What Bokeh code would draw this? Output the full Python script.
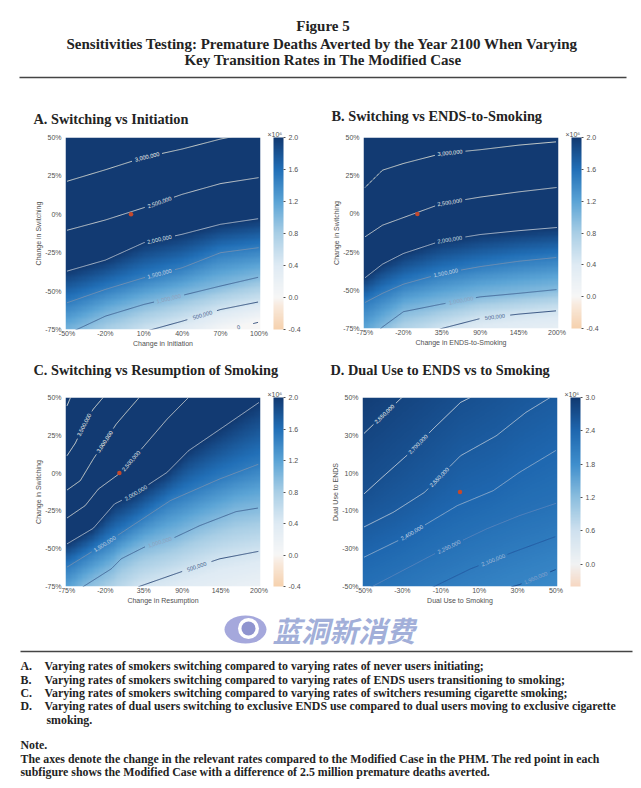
import numpy as np
from bokeh.embed import file_html
from bokeh.resources import INLINE
from bokeh.plotting import figure
from bokeh.layouts import column, row
from bokeh.core.properties import value
from bokeh.models import (ColorBar, FixedTicker, LinearColorMapper, PrintfTickFormatter, Range1d, Title)

# ---------- chart values ----------
HEADER = ["Figure 5",
          "Sensitivities Testing: Premature Deaths Averted by the Year 2100 When Varying",
          "Key Transition Rates in The Modified Case"]
NOTES_ABC = [("A.", "Varying rates of smokers switching compared to varying rates of never users initiating;"),
             ("B.", "Varying rates of smokers switching compared to varying rates of ENDS users transitioning to smoking;"),
             ("C.", "Varying rates of smokers switching compared to varying rates of switchers resuming cigarette smoking;"),
             ("D.", "Varying rates of dual users switching to exclusive ENDS use compared to dual users moving to exclusive cigarette")]
NOTE_WRAP = "smoking."
NOTE_HEAD = "Note."
NOTE_LINES = ["The axes denote the change in the relevant rates compared to the Modified Case in the PHM. The red point in each",
              "subfigure shows the Modified Case with a difference of 2.5 million premature deaths averted."]
WATERMARK = "蓝洞新消费"

# Panel A
A_TITLE = "A. Switching vs Initiation"
A_XTICKS = [-50, -20, 10, 40, 70, 100]
A_YTICKS = [-75, -50, -25, 0, 25, 50]
A_CTICKS = [-0.4, 0.0, 0.4, 0.8, 1.2, 1.6, 2.0]
A_LEVELS = [3000000, 2500000, 2000000, 1500000, 1000000, 500000, 0]
A_X = [[-50, -20, 10, 40, 70, 100]] * 7
A_Y = [[21.5, 29, 37, 42.5, 49, 54],
       [-10.4, -3.7, 4.3, 13, 20, 23.9],
       [-37, -29.8, -18.5, -13, -6.5, -2.8],
       [-57.6, -48.9, -41.3, -34.8, -25, -21.7],
       [-78, -66.3, -58.7, -52.8, -46.7, -40.9],
       [-100, -88, -76.5, -69.6, -62, -57],
       [-130, -110, -100, -88, -76.5, -70.2]]
A_LABEL_X = [12.6, 22.3, 22.3, 22.3, 29.5, 55.9, 84]

# Panel B
B_TITLE = "B. Switching vs ENDS-to-Smoking"
B_XTICKS = [-75, -20, 35, 90, 145, 200]
B_YTICKS = [-75, -50, -25, 0, 25, 50]
B_CTICKS = [-0.4, 0.0, 0.4, 0.8, 1.2, 1.6, 2.0]
B_LEVELS = [3000000, 2500000, 2000000, 1500000, 1000000, 500000, 0]
B_X = [[-75, -50, -20, 35, 90, 145, 200]] * 7
B_Y = [[17.3, 28.6, 33, 39.5, 42, 45, 47.2],
       [-15, -7.4, -2.4, 6.8, 11, 14.4, 17.3],
       [-41.8, -32.9, -25.9, -17.6, -13.5, -11, -8.9],
       [-58, -52, -46, -39, -34.5, -31, -28.5],
       [-85, -74, -64, -59, -54.3, -52, -49.5],
       [-100, -92, -85, -75, -68.5, -65.6, -63.4],
       [-130, -125, -115, -100, -96, -92, -88]]
B_LABEL_X = [46.8, 46.3, 46.3, 40.7, 62.7, 111, None]

# Panel C
C_TITLE = "C. Switching vs Resumption of Smoking"
C_XTICKS = [-75, -20, 35, 90, 145, 200]
C_YTICKS = [-75, -50, -25, 0, 25, 50]
C_CTICKS = [-0.4, 0.0, 0.4, 0.8, 1.2, 1.6, 2.0]
C_LEVELS = [4000000, 3500000, 3000000, 2500000, 2000000, 1500000, 1000000, 500000, 0]
C_X = [[-75, -70, 200],
       [-75, -63, -49, -37.4, -23.3, 200],
       [-75, -56, -37.4, -4.5, 9.6, 28.4, 200],
       [-75, -49, -30, 2.6, 35.5, 68.4, 99, 200],
       [-75, -37.4, -7, 21.4, 68.4, 99, 148, 200],
       [-75, -21, 26, 73, 143.6, 200],
       [-75, -51.5, -11.5, 2.6, 35.5, 80, 115.4, 167, 200],
       [-75, 28.4, 94, 143.6, 200],
       [-75, 28, 200]]
C_Y = [[44.5, 50, 300],
       [11.5, 19.9, 33.5, 42.3, 50, 230],
       [-11.2, -5, 9.3, 32.4, 40, 50, 170],
       [-29.7, -21.5, -10.5, 0.5, 18, 35.7, 50, 110],
       [-46.8, -36.5, -20.4, -13.8, 0.5, 14.8, 30.2, 46.7],
       [-62.2, -46.8, -32.5, -18.2, -3.9, 6],
       [-85, -75, -63.3, -56.7, -49, -42.4, -34.7, -25.5, -23],
       [-110, -75, -64.4, -56.7, -51.7],
       [-180, -115, -90]]
C_LABEL_X = [None, -50.6, -21, 16.7, 23.7, -21, 58, 110.7, None]

# Panel D
D_TITLE = "D. Dual Use to ENDS vs to Smoking"
D_XTICKS = [-50, -30, -10, 10, 30, 50]
D_YTICKS = [-50, -30, -10, 10, 30, 50]
D_CTICKS = [0.0, 0.6, 1.2, 1.8, 2.4, 3.0]
D_LEVELS = [3000000, 2850000, 2700000, 2550000, 2400000, 2250000, 2100000, 1950000, 1800000]
D_X = [[-50, 50],
       [-50, -44, -30.7, 50],
       [-50, -40.6, -27, -13.4, 0.3, 5.4, 50],
       [-50, -34.7, -18.5, -4.9, 0.3, 19, 34.3, 47, 50],
       [-50, -30.4, -1.4, 17.3, 31, 50],
       [-50, -45.7, -11.7, 13.9, 31, 50],
       [-50, -13.4, 5.4, 12.2, 27.5, 50],
       [-50, 27.5, 31, 48.8, 50],
       [-50, 50]]
D_Y = [[62, 130],
       [31, 36.8, 49.6, 110],
       [-1, 7.7, 20, 34, 47.4, 50, 85],
       [-18.5, -10.7, -0.2, 13.9, 19.2, 29.8, 42.1, 50, 52],
       [-34.5, -24.8, -7.2, 0.7, 10.4, 22],
       [-52, -50, -31.9, -19.5, -12.5, -6],
       [-68, -50, -40.7, -38, -31.9, -23.5],
       [-85, -50, -49, -41.5, -41],
       [-110, -58]]
D_LABEL_X = [None, -39.4, -21.9, -10.8, -25, -5.7, 17.3, 39.4, None]

AXIS_NAMES = [("Change in Initiation", "Change in Switching"),
              ("Change in ENDS-to-Smoking", "Change in Switching"),
              ("Change in Resumption", "Change in Switching"),
              ("Dual Use to Smoking", "Dual Use to ENDS")]
MODIFIED_CASE = (0, 0)

# ---------- styles ----------
SERIF = "Liberation Serif"
SANS = "Liberation Sans"
INK = "#232323"
TICK = "#505050"
LINE_COLORS = {4000000: "#f4f2e4", 3500000: "#f4f2e4", 3000000: "#e8e8da", 2500000: "#e0e0da", 2000000: "#c0cad6",
               1500000: "#7e93b0", 1000000: "#3f6191", 500000: "#1c3b6e", 0: "#1c3b6e"}
LABEL_COLORS = {3500000: "#f0f0e6", 3000000: "#f0f0e6", 2500000: "#eeeeea", 2000000: "#dfe5ea",
                1500000: "#c5d3e2", 1000000: "#8fa2bd", 500000: "#43618d", 0: "#43618d"}
D_LINE_COLORS = {3000000: "#f4f4ee", 2850000: "#f4f4ee", 2700000: "#e6e9ea", 2550000: "#c3cfdc", 2400000: "#9db4cf",
                 2250000: "#5f86bd", 2100000: "#24579f", 1950000: "#173f80", 1800000: "#173f80"}
D_LABEL_COLORS = {2850000: "#f4f4ee", 2700000: "#eceeee", 2550000: "#e0e6ec", 2400000: "#cfdbe8",
                  2250000: "#a9bedb", 2100000: "#a5bbda", 1950000: "#86a2cc"}
RAMP = [(-0.4, "#f6d2ae"), (-0.1, "#f9ebdf"), (0.0, "#f7f7f7"), (0.4, "#dfebf4"), (0.8, "#a9cfe6"),
        (1.2, "#5ba4d6"), (1.6, "#2270b8"), (2.0, "#123a72")]
D_RAMP = [(-0.4, "#f7d8c2"), (0.0, "#f1f3f4"), (0.6, "#cfe1ef"), (1.2, "#8cbfdf"), (1.8, "#3f8fcd"),
          (2.4, "#1f68b0"), (3.0, "#123a72")]


def make_palette(ramp):
    v = np.array([r[0] for r in ramp])
    rgb = np.array([[int(r[1][i:i + 2], 16) for i in (1, 3, 5)] for r in ramp], float)
    t = np.linspace(v[0], v[-1], 256)
    chans = [np.interp(t, v, rgb[:, k]) for k in range(3)]
    return ["#%02x%02x%02x" % (int(a), int(b), int(c)) for a, b, c in zip(*chans)]


def panel(title, xticks, yticks, cticks, levels, lx, ly, label_x, names, ramp, line_colors, label_colors,
          fw, fh, left, top, right, bottom, title_standoff):
    xpad = (xticks[-1] - xticks[0]) * 0.008
    x0, x1 = xticks[0] - xpad, xticks[-1] + xpad
    y0, y1 = yticks[0], yticks[-1]
    p = figure(frame_width=fw, frame_height=fh, min_border_left=left, min_border_right=right,
               min_border_top=top, min_border_bottom=bottom, x_range=Range1d(x0, x1), y_range=Range1d(y0, y1),
               output_backend="svg", toolbar_location=None, background_fill_color="white")
    p.outline_line_color = None
    p.grid.visible = False
    p.add_layout(Title(text="×10⁶", text_font=SANS, text_font_size="7px", text_font_style="normal",
                       text_color=TICK, align="left", offset=fw + 7, standoff=0), "above")
    p.add_layout(Title(text=title, text_font=SERIF, text_font_size="14.3px", text_color=INK,
                       align="left", offset=-32, standoff=title_standoff), "above")

    for ax, ticks, name, tick_gap in ((p.xaxis[0], xticks, names[0], 0), (p.yaxis[0], yticks, names[1], 4)):
        ax.ticker = FixedTicker(ticks=ticks)
        ax.formatter = PrintfTickFormatter(format="%d%%")
        ax.axis_label = name
        ax.axis_label_text_font = SANS
        ax.axis_label_text_font_style = "normal"
        ax.axis_label_text_font_size = "7px"
        ax.axis_label_text_color = TICK
        ax.axis_label_standoff = 0
        ax.major_label_text_font = SANS
        ax.major_label_text_font_size = "7px"
        ax.major_label_text_color = TICK
        ax.major_label_standoff = tick_gap
        ax.major_tick_in = 0
        ax.major_tick_out = 0
        ax.axis_line_color = None
        ax.major_tick_line_color = None
        ax.minor_tick_line_color = None

    # field: at each column the contour crossings give the value at that height
    gx = np.linspace(x0, x1, 160)
    gy = np.linspace(y0, y1, 160)
    z = np.zeros((gy.size, gx.size))
    for j, cx in enumerate(gx):
        cross = np.array([np.interp(cx, a, b) for a, b in zip(lx, ly)])
        order = np.argsort(cross)
        z[:, j] = np.interp(gy, cross[order], np.array(levels, float)[order]) / 1e6
    low, high = ramp[0][0], ramp[-1][0]
    mapper = LinearColorMapper(palette=make_palette(ramp), low=low, high=high)
    p.image(image=[z], x=x0, y=y0, dw=x1 - x0, dh=y1 - y0, color_mapper=mapper)

    # contour lines with a gap at each label
    sx, sy = fw / (x1 - x0), fh / (y1 - y0)
    for level, a, b, at in zip(levels, lx, ly, label_x):
        a, b = np.array(a, float), np.array(b, float)
        s = np.r_[0, np.cumsum(np.hypot(np.diff(a) * sx, np.diff(b) * sy))]
        t = np.arange(0, s[-1], 1.0)
        cx, cy = np.interp(t, s, a), np.interp(t, s, b)
        if at is not None:
            ay = np.interp(at, a, b)
            dist = np.hypot((cx - at) * sx, (cy - ay) * sy)
            i = int(np.argmin(dist))
            lo, hi = max(i - 8, 0), min(i + 8, t.size - 1)
            ang = np.arctan2((cy[hi] - cy[lo]) * sy, (cx[hi] - cx[lo]) * sx)
            cy = np.where(dist < 15, np.nan, cy)
            p.text(x=[at], y=[ay], text=[f"{level:,}"], angle=[ang], text_align="center", text_baseline="middle",
                   text_font=value(SANS), text_font_size="5.6px", text_color=label_colors[level])
        p.line(cx, cy, line_color=line_colors[level], line_width=0.85)

    p.scatter(x=[MODIFIED_CASE[0]], y=[MODIFIED_CASE[1]], size=4.5, marker="circle",
              fill_color="#c4492d", line_color=None)

    cb = ColorBar(color_mapper=mapper, ticker=FixedTicker(ticks=cticks), formatter=PrintfTickFormatter(format="%.1f"),
                  width=10, height=fh, location=(13, 0), margin=0, padding=0, major_label_text_font=SANS,
                  major_label_text_font_size="7px",
                  major_label_text_color=TICK, major_tick_line_color=TICK, major_tick_in=0, major_tick_out=2,
                  minor_tick_line_color=None, bar_line_color=None, label_standoff=3)
    p.add_layout(cb, "right")
    return p


W = 641
a = panel(A_TITLE, A_XTICKS, A_YTICKS, A_CTICKS, A_LEVELS, A_X, A_Y, A_LABEL_X, AXIS_NAMES[0], RAMP,
          LINE_COLORS, LABEL_COLORS, 195, 192, 65, 40, 60, 21, 3)
b = panel(B_TITLE, B_XTICKS, B_YTICKS, B_CTICKS, B_LEVELS, B_X, B_Y, B_LABEL_X, AXIS_NAMES[1], RAMP,
          LINE_COLORS, LABEL_COLORS, 195, 191, 43, 42, 83, 20, 10)
c = panel(C_TITLE, C_XTICKS, C_YTICKS, C_CTICKS, C_LEVELS, C_X, C_Y, C_LABEL_X, AXIS_NAMES[2], RAMP,
          LINE_COLORS, LABEL_COLORS, 195, 189, 65, 46, 60, 24, 22)
d = panel(D_TITLE, D_XTICKS, D_YTICKS, D_CTICKS, D_LEVELS, D_X, D_Y, D_LABEL_X, AXIS_NAMES[3], D_RAMP,
          D_LINE_COLORS, D_LABEL_COLORS, 195, 189, 42, 46, 84, 24, 22)


def sheet(y_top, y_bottom):
    s = figure(frame_width=W, frame_height=y_bottom - y_top, x_range=Range1d(0, W),
               y_range=Range1d(y_bottom, y_top), output_backend="svg", toolbar_location=None,
               min_border=0, x_axis_location=None, y_axis_location=None)
    s.outline_line_color = None
    s.grid.visible = False
    return s


def write(s, x, y, text, size, align="left"):
    s.text(x=[x], y=[y], text=[text], text_font=value(SERIF), text_font_style="bold", text_font_size=size,
           text_color=INK, text_align=align, text_baseline="middle")


head = sheet(0, 95)
for yy, line in zip((25, 43, 59), HEADER):
    write(head, 322.5, yy, line, "15px", "center")
head.line([19, 626], [77, 77], line_color="#444444", line_width=1.3)

foot = sheet(610, 788)
foot.ellipse(x=[245], y=[629], width=[42], height=[28], fill_color="#a5a8dc", line_color=None)
foot.circle(x=[248], y=[628], radius=[10.5], fill_color="white", line_color=None)
foot.circle(x=[248], y=[628], radius=[7], fill_color="#8f94cf", line_color=None)
foot.text(x=[272], y=[629], text=[WATERMARK], text_font=value("Noto Sans CJK SC"), text_font_style="bold italic",
          text_font_size="28.5px", text_color="#a2afd9", text_align="left", text_baseline="middle")
foot.line([20, 632], [651, 651], line_color="#444444", line_width=1.3)
for yy, (tag, line) in zip((665.5, 679.5, 692.5, 705.5), NOTES_ABC):
    write(foot, 20, yy, tag, "11.85px")
    write(foot, 44, yy, line, "11.85px")
write(foot, 46, 719, NOTE_WRAP, "11.85px")
write(foot, 20, 744.5, NOTE_HEAD, "11.85px")
write(foot, 20, 758, NOTE_LINES[0], "11.85px")
write(foot, 20, 771.5, NOTE_LINES[1], "11.85px")

page = column(head, row(a, b, spacing=0), row(c, d, spacing=0), foot, spacing=0)
open("out.html", "w").write(file_html(page, INLINE))
